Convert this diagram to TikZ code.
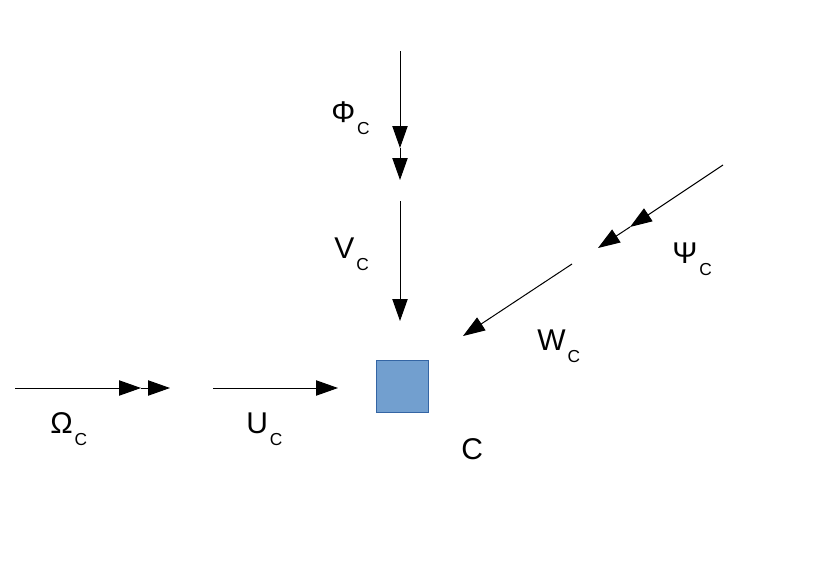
\documentclass[tikz,border=0pt]{standalone}
\usepackage{fontspec}
\setmainfont{Liberation Sans}
\usetikzlibrary{arrows.meta}

\newcommand{\cidx}[1]{#1\hspace{1.5pt}\raisebox{-9.5pt}{\fontsize{13}{15}\selectfont C}}

\tikzset{
  flow/.style={line width=0.75pt,-{Triangle[length=16.5pt,width=11.5pt]}},
  lbl/.style={anchor=base west,inner sep=0pt,font=\fontsize{22.5}{26}\selectfont},
  cell/.style={draw=cellline,fill=cellfill,line width=0.75pt,minimum size=39pt,inner sep=0pt}
}
\definecolor{cellfill}{HTML}{729FCF}
\definecolor{cellline}{HTML}{3465A4}

\begin{document}
\begin{tikzpicture}[x=0.75pt,y=0.75pt,yscale=-1,xscale=1]
\useasboundingbox (0,0) rectangle (827,575);

%Square [id:cell]
\node [cell] (c) at (402,386.5) {};

%Coordinates
\coordinate (om0) at (15,388);
\coordinate (om1) at (141,388);
\coordinate (om2) at (170,388);
\coordinate (u0) at (213,388);
\coordinate (u1) at (338,388);
\coordinate (ph0) at (400,51);
\coordinate (ph1) at (400,148);
\coordinate (ph2) at (400,180);
\coordinate (v0) at (400,201);
\coordinate (v1) at (400,321);
\coordinate (ps0) at (723,165);
\coordinate (ps1) at (630,227);
\coordinate (ps2) at (598,248);
\coordinate (w0) at (572,264);
\coordinate (w1) at (463,336);

%Straight Lines [id:omega]
\draw [flow] (om0) -- (om1) ;
\draw [flow] (om1) -- (om2) ;
%Straight Lines [id:u]
\draw [flow] (u0) -- (u1) ;
%Straight Lines [id:phi]
\draw [flow] (ph0) -- (ph1) ;
\draw [flow] (ph1) -- (ph2) ;
%Straight Lines [id:v]
\draw [flow] (v0) -- (v1) ;
%Straight Lines [id:psi]
\draw [flow] (ps0) -- (ps1) ;
\draw [flow] (ps1) -- (ps2) ;
%Straight Lines [id:w]
\draw [flow] (w0) -- (w1) ;

% Text Node
\node [lbl] (lphi) at (331,122) {\cidx{Φ}};
% Text Node
\node [lbl] (lv) at (334,258) {\cidx{V}};
% Text Node
\node [lbl] (lpsi) at (672,263) {\cidx{Ψ}};
% Text Node
\node [lbl] (lw) at (537,350) {\cidx{W}};
% Text Node
\node [lbl] (lom) at (50,433) {\cidx{Ω}};
% Text Node
\node [lbl] (lu) at (246,433) {\cidx{U}};
% Text Node
\node [lbl] (lc) at (461,459) {C};

\end{tikzpicture}
\end{document}
